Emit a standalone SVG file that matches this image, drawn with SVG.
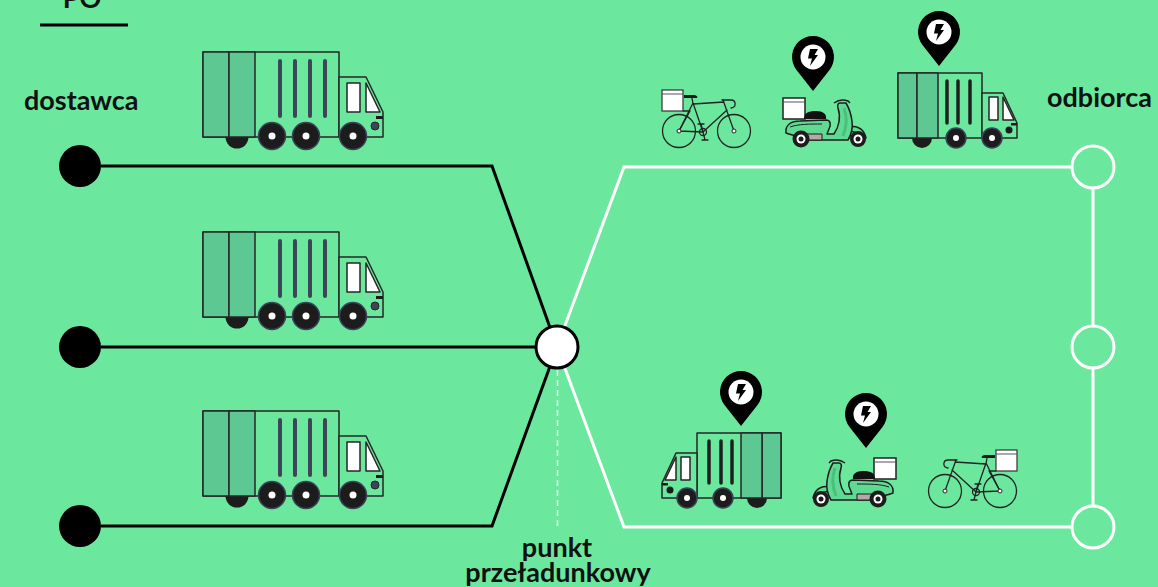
<svg xmlns="http://www.w3.org/2000/svg" xmlns:xlink="http://www.w3.org/1999/xlink" width="1158" height="587" viewBox="0 0 1158 587">
  <style>
    .label { font-family: Lato, "Open Sans", "Liberation Sans", sans-serif; font-weight: 700; fill: #111; font-size: 27px; }
    .ol { stroke: #262626; stroke-width: 1.5; stroke-linejoin: round; }
    .bodyfill { fill: #6be89e; }
    .panel { fill: #5ec892; }
    .win { fill: #ffffff; }
    .bar { stroke: #3b4759; stroke-width: 4; stroke-linecap: round; }
    .bar2 { stroke: #1f1f1f; stroke-width: 3.5; stroke-linecap: round; }
    .tyre { fill: #1c1c1c; stroke: #39445a; stroke-width: 1.5; }
    .hub { fill: #ffffff; }
    .thin { stroke: #222; stroke-width: 1.3; fill: none; stroke-linecap: round; stroke-linejoin: round; }
    .black-line { stroke: #000; stroke-width: 3; fill: none; stroke-linejoin: miter; }
    .white-line { stroke: #fff; stroke-width: 3; fill: none; stroke-linejoin: miter; }
    .dest { stroke: #fff; stroke-width: 3; fill: none; }
    .src { fill: #000; }
  </style>
  <defs>
    <!-- large three-axle truck -->
    <g id="bigTruck">
      <circle cx="237" cy="137" r="11.5" fill="#1c1c1c"/>
      <rect class="bodyfill ol" x="203" y="52" width="136" height="85"/>
      <rect class="panel ol" x="203" y="52" width="26" height="85"/>
      <rect class="panel ol" x="229" y="52" width="26" height="85"/>
      <line class="bar" x1="280" y1="61" x2="280" y2="116"/>
      <line class="bar" x1="295" y1="61" x2="295" y2="116"/>
      <line class="bar" x1="310" y1="61" x2="310" y2="116"/>
      <line class="bar" x1="325" y1="61" x2="325" y2="116"/>
      <path class="bodyfill ol" d="M339,77 L366,77 L383,112 L383,137 L339,137 Z"/>
      <rect class="win ol" x="347" y="83" width="13" height="29"/>
      <path class="win ol" d="M366,83 L380,112 L366,112 Z"/>
      <rect x="376" y="116" width="7" height="3" fill="#1c1c1c"/>
      <circle cx="375" cy="126" r="4" fill="#3b4759" stroke="#262626" stroke-width="1"/>
      <circle class="tyre" cx="272" cy="136" r="13.5"/>
      <circle class="hub" cx="272" cy="136" r="3.5"/>
      <circle class="tyre" cx="306" cy="136" r="13.5"/>
      <circle class="hub" cx="306" cy="136" r="3.5"/>
      <circle class="tyre" cx="353" cy="136" r="13.5"/>
      <circle class="hub" cx="353" cy="136" r="3.5"/>
    </g>

    <!-- small two-axle truck -->
    <g id="smallTruck">
      <circle cx="922" cy="138" r="10" fill="#1c1c1c"/>
      <rect class="bodyfill ol" x="898" y="73" width="84" height="65"/>
      <rect class="panel ol" x="898" y="73" width="19" height="65"/>
      <rect class="panel ol" x="917" y="73" width="21" height="65"/>
      <line class="bar2" x1="947" y1="81" x2="947" y2="123"/>
      <line class="bar2" x1="958" y1="81" x2="958" y2="123"/>
      <line class="bar2" x1="970" y1="81" x2="970" y2="123"/>
      <path class="bodyfill ol" d="M982,93 L1003,93 L1017,123 L1017,138 L982,138 Z"/>
      <rect class="win ol" x="989" y="97" width="9" height="23"/>
      <path class="win ol" d="M1003,97 L1014,120 L1003,120 Z"/>
      <rect x="1011" y="123" width="6" height="2.5" fill="#1c1c1c"/>
      <circle cx="1009" cy="130" r="3.5" fill="#1c1c1c"/>
      <circle class="tyre" cx="956" cy="138" r="10"/>
      <circle class="hub" cx="956" cy="138" r="3"/>
      <circle class="tyre" cx="992" cy="138" r="10"/>
      <circle class="hub" cx="992" cy="138" r="3"/>
    </g>

    <!-- delivery bike with rear box -->
    <g id="bike">
      <circle class="thin" cx="679" cy="131" r="16.5"/>
      <circle class="thin" cx="734" cy="131" r="16.5"/>
      <path class="thin" d="M679,131 L703,132 L693,103 Z M693,104 L724,102 M703,132 L727,110 M723,100 L734,131 M692,98 L693,104"/>
      <path class="thin" d="M722,100 L731,100 C736,100 737,107 731,108"/>
      <path class="thin" d="M683,111 L690,111 L679,131"/>
      <circle class="thin" cx="703" cy="132" r="3.5"/>
      <path class="thin" d="M701,124 L705,140 M698,124 L704,124 M702,140 L708,140"/>
      <path d="M684,95 L693,95 C697,95 698,97 697,98 L684,98 Z" fill="#1c1c1c"/>
      <rect x="662" y="90" width="21" height="21" fill="#fff" stroke="#333" stroke-width="1.2"/>
      <line x1="662" y1="94" x2="683" y2="94" stroke="#555" stroke-width="1"/>
      <circle cx="679" cy="131" r="2" fill="#fff" stroke="#222" stroke-width="1"/>
      <circle cx="734" cy="131" r="2" fill="#fff" stroke="#222" stroke-width="1"/>
    </g>

    <!-- scooter with rear box -->
    <g id="scooter">
      <rect x="783" y="98" width="22" height="21" fill="#fff" stroke="#222" stroke-width="1.5"/>
      <line x1="783" y1="102" x2="805" y2="102" stroke="#555" stroke-width="1"/>
      <path d="M804,119 C804,113 808,111 816,111 C823,111 827,114 826,119 Z" fill="#111"/>
      <!-- front fender -->
      <path d="M846,128 C855,124 864,128 866,138 L861,138 C858,132 852,130 846,133 Z" fill="#5fda93" stroke="#1c1c1c" stroke-width="1.5" stroke-linejoin="round"/>
      <!-- rear body, floor and leg shield -->
      <path d="M786,133 C785,125 791,121 800,121 L826,120 C831,120 831,125 829,129 L827,134 L834,134 C839,127 841,117 838,108 C837,105 838,103 840,103 L846,103 C849,108 851,114 852,121 C853,128 851,135 848,140 L806,140 C802,137 795,136 786,133 Z" fill="#5fda93" stroke="#1c1c1c" stroke-width="1.5" stroke-linejoin="round"/>
      <path d="M844,108 C847,116 847,126 843,136" fill="none" stroke="#4bbf7c" stroke-width="3"/>
      <path d="M790,127 C798,124 810,124 822,124" fill="none" stroke="#1c1c1c" stroke-width="1"/>
      <path d="M806,134 L822,134 L822,140 L806,140 Z" fill="#b3aaa5" stroke="#1c1c1c" stroke-width="1"/>
      <path d="M834,103 C838,100 843,99 848,101 L850,103" fill="none" stroke="#1c1c1c" stroke-width="1.5"/>
      <circle cx="801" cy="139" r="8.5" fill="#1c1c1c"/>
      <circle cx="801" cy="139" r="4.5" fill="#fff"/>
      <circle cx="801" cy="139" r="2.5" fill="#1c1c1c"/>
      <circle cx="858" cy="139" r="8" fill="#1c1c1c"/>
      <circle cx="858" cy="139" r="4.5" fill="#fff"/>
      <circle cx="858" cy="139" r="2.5" fill="#1c1c1c"/>
    </g>

    <!-- charging pin marker, centred on its circle -->
    <g id="pin">
      <path d="M0,34 L-16.5,13 A21,21 0 1 1 16.5,13 Z" fill="#000"/>
      <circle cx="0" cy="0" r="12.5" fill="#fff"/>
      <path d="M-3,-8 L5,-8 L1.5,-2 L5,-2 L-3,9 L-1,1.5 L-5,1.5 Z" fill="#000"/>
    </g>
  </defs>

  <rect width="1158" height="587" fill="#6be89e"/>

  <!-- heading -->
  <g id="heading">
    <text class="label" x="82" y="8" text-anchor="middle">PO</text>
    <line x1="40" y1="25" x2="128" y2="25" stroke="#000" stroke-width="3"/>
  </g>

  <!-- connectors -->
  <g id="connectors">
    <polyline class="black-line" points="101,166 492,166 557,347"/>
    <line class="black-line" x1="101" y1="347" x2="557" y2="347"/>
    <polyline class="black-line" points="101,526 492,526 557,347"/>
    <polyline class="white-line" points="557,347 624,167 1072,167"/>
    <polyline class="white-line" points="557,347 624,527 1072,527"/>
    <line class="white-line" x1="1093" y1="189" x2="1093" y2="325"/>
    <line class="white-line" x1="1093" y1="369" x2="1093" y2="505"/>
    <line x1="557.5" y1="370" x2="557.5" y2="530" stroke="#fff" stroke-opacity="0.85" stroke-width="1.5" stroke-dasharray="6 4"/>
  </g>

  <!-- suppliers -->
  <g id="supplier-1"><circle class="src" cx="80" cy="166" r="21"/></g>
  <g id="supplier-2"><circle class="src" cx="80" cy="347" r="21"/></g>
  <g id="supplier-3"><circle class="src" cx="80" cy="526" r="21"/></g>
  <g id="supplier-label"><text class="label" x="24" y="110">dostawca</text></g>

  <!-- trucks on the supply lines -->
  <g id="truck-1"><use xlink:href="#bigTruck"/></g>
  <g id="truck-2"><use xlink:href="#bigTruck" transform="translate(0,180)"/></g>
  <g id="truck-3"><use xlink:href="#bigTruck" transform="translate(0,359)"/></g>

  <!-- transshipment hub -->
  <g id="hub">
    <circle cx="557" cy="347" r="21" fill="#fff" stroke="#000" stroke-width="3"/>
    <text class="label" x="557" y="557" text-anchor="middle">punkt</text>
    <text class="label" x="558" y="582" text-anchor="middle">przeładunkowy</text>
  </g>

  <!-- recipients -->
  <g id="recipient-1"><circle class="dest" cx="1093" cy="167" r="21"/></g>
  <g id="recipient-2"><circle class="dest" cx="1093" cy="347" r="21"/></g>
  <g id="recipient-3"><circle class="dest" cx="1093" cy="527" r="21"/></g>
  <g id="recipient-label"><text class="label" x="1047" y="107">odbiorca</text></g>

  <!-- last-mile vehicles, upper route -->
  <g id="fleet-top">
    <use xlink:href="#bike"/>
    <use xlink:href="#scooter"/>
    <use xlink:href="#smallTruck"/>
    <use xlink:href="#pin" transform="translate(813,57)"/>
    <use xlink:href="#pin" transform="translate(939,32)"/>
  </g>

  <!-- last-mile vehicles, lower route (mirrored) -->
  <g id="fleet-bottom">
    <g transform="translate(1679,360) scale(-1,1)">
      <use xlink:href="#bike"/>
      <use xlink:href="#scooter"/>
      <use xlink:href="#smallTruck"/>
    </g>
    <use xlink:href="#pin" transform="translate(866,414)"/>
    <use xlink:href="#pin" transform="translate(741,392)"/>
  </g>
</svg>
